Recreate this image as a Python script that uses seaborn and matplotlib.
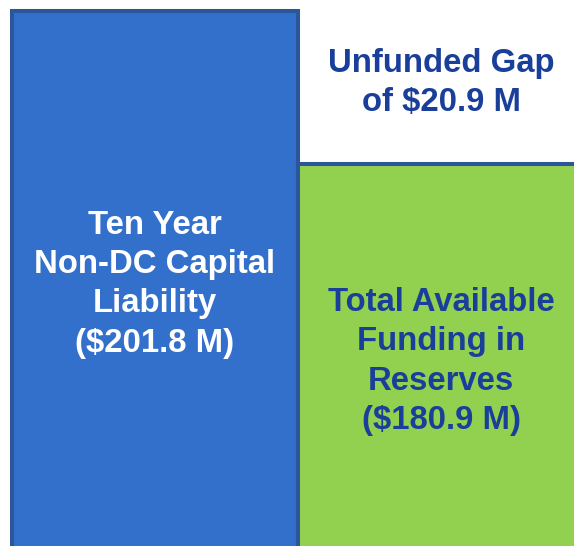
import matplotlib
matplotlib.use("Agg")
import matplotlib.pyplot as plt
import seaborn as sns
import pandas as pd

categories = ["Ten Year Non-DC Capital Liability", "Total Available Funding in Reserves"]
values = [201.8, 180.9]
bar_colors = ["#3370cc", "#92d050"]
labels = [
    "Ten Year\nNon-DC Capital\nLiability\n($201.8 M)",
    "Total Available\nFunding in\nReserves\n($180.9 M)",
]
gap_label = "Unfunded Gap\nof $20.9 M"

sns.set_theme(style="white")
plt.rcParams["font.family"] = ["Liberation Sans", "DejaVu Sans"]

df = pd.DataFrame({"cat": categories, "val": values})

fig = plt.figure(figsize=(5.74, 5.46), dpi=100)
ax = fig.add_axes([0, 0, 1, 1])
sns.barplot(data=df, x="cat", y="val", hue="cat", palette=bar_colors,
            width=1.0, legend=False, ax=ax,
            edgecolor="#2b579a", linewidth=2.9, saturation=1)

ax.set_xlim(-0.541, 1.464)
ax.set_ylim(128.95, 203.3)
ax.axis("off")

fs = 23.7
ls = 1.35
ax.text(0, 164.6, labels[0], ha="center", va="center", color="white",
        fontsize=fs, fontweight="bold", linespacing=ls)
ax.text(1, 154.1, labels[1], ha="center", va="center", color="#1a3f9a",
        fontsize=fs, fontweight="bold", linespacing=ls)
ax.text(1, 192.0, gap_label, ha="center", va="center", color="#1a3f9a",
        fontsize=fs, fontweight="bold", linespacing=ls)

fig.savefig("out.png", dpi=100)
